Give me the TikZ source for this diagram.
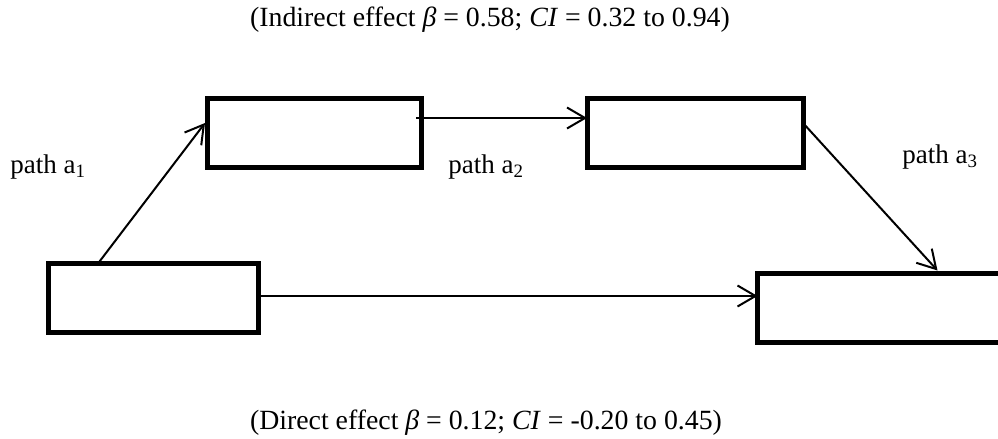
\documentclass[tikz,border=0pt]{standalone}
\usepackage{fontspec}
\setmainfont{Liberation Serif}
\usetikzlibrary{arrows.meta,calc}
\begin{document}
\begin{tikzpicture}[x=0.5pt,y=-0.5pt,
  box/.style={draw,line width=2.5pt,minimum width=#1,inner sep=0pt,outer sep=0pt,minimum height=34.5pt},
  conn/.style={line width=1pt,-{Straight Barb[length=9pt,width=10.5pt,line width=1pt]}},
  lbl/.style={inner sep=0pt,font=\fontsize{13.5}{15}\selectfont},
  captext/.style={inner sep=0pt,font=\fontsize{13.9}{16}\selectfont}]
\useasboundingbox (0,0) rectangle (998,439);
\clip (0,0) rectangle (998,439);
\node[box=105pt] (b1) at (153,298) {};
\node[box=107pt] (b2) at (314,133) {};
\node[box=108pt] (b3) at (695,133) {};
\node[box=130pt,anchor=west] (b4) at (757.5,308) {};
\draw[conn] ($(b1.north west)+(50,0)$) -- ($(b2.west)+(-2,-10)$);
\draw[conn] ($(b2.east)+(-5,-15)$) -- ($(b3.west)+(0,-15)$);
\draw[conn] ($(b3.east)+(0,-10)$) -- ($(b4.north west)+(180,-3)$);
\draw[conn] ($(b1.east)+(0,-2)$) -- ($(b4.west)+(0,-12)$);
\node[lbl,anchor=base west] (l1) at (10,173) {path a\textsubscript{1}};
\node[lbl,anchor=base west] (l2) at (448,173) {path a\textsubscript{2}};
\node[lbl,anchor=base west] (l3) at (902,163) {path a\textsubscript{3}};
\node[captext,anchor=base] (top) at (490,26) {(Indirect effect \textit{β} = 0.58; \textit{CI} = 0.32 to 0.94)};
\node[captext,anchor=base] (bot) at (486,429) {(Direct effect \textit{β} = 0.12; \textit{CI} = -0.20 to 0.45)};
\end{tikzpicture}
\end{document}
